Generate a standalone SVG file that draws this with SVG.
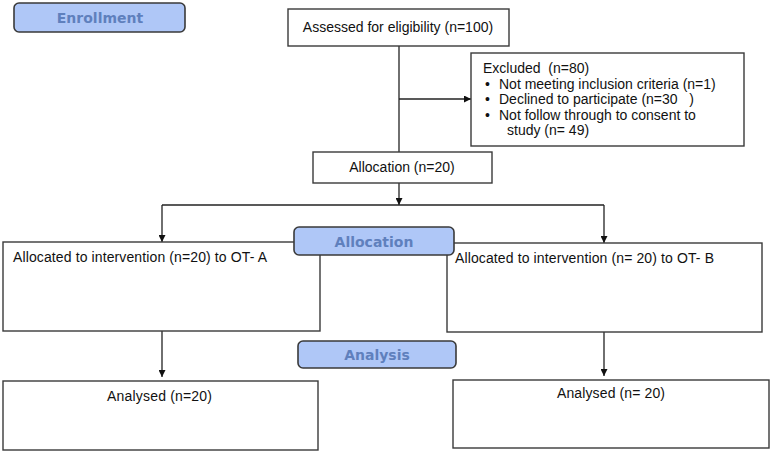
<svg xmlns="http://www.w3.org/2000/svg" width="770" height="453" viewBox="0 0 770 453">
<style>
.box{fill:#fff;stroke:#3a3a3a;stroke-width:1.4}
.lab{fill:#afc7f7;stroke:#3a3a3a;stroke-width:1.6}
.t{font-family:"Liberation Sans",Arial,sans-serif;font-size:14px;fill:#111;white-space:pre}
.h{font-family:"DejaVu Sans",Verdana,sans-serif;font-size:14px;font-weight:bold;fill:#5f80bd;text-anchor:middle}
.c{stroke:#222;stroke-width:1.3;fill:none}
</style>
<defs>
<marker id="ah" viewBox="0 0 10 10" refX="10" refY="5" markerWidth="7" markerHeight="7" markerUnits="userSpaceOnUse" orient="auto">
<path d="M0,0 L10,5 L0,10 z" fill="#111"/>
</marker>
</defs>
<rect width="770" height="453" fill="#fff"/>
<g id="connectors">
<line class="c" x1="399" y1="46" x2="399" y2="152"/>
<line class="c" x1="399" y1="99" x2="471" y2="99" marker-end="url(#ah)"/>
<line class="c" x1="399" y1="183" x2="399" y2="205" marker-end="url(#ah)"/>
<line class="c" x1="162" y1="205" x2="604" y2="205"/>
<line class="c" x1="162" y1="205" x2="162" y2="242" marker-end="url(#ah)"/>
<line class="c" x1="604" y1="205" x2="604" y2="243" marker-end="url(#ah)"/>
<line class="c" x1="162" y1="331" x2="162" y2="377" marker-end="url(#ah)"/>
<line class="c" x1="604" y1="332" x2="604" y2="376" marker-end="url(#ah)"/>
</g>
<g id="enrollment">
<rect class="lab" x="14" y="3" width="171" height="29" rx="5"/>
<text class="h" x="100" y="23">Enrollment</text>
</g>
<g id="assessed">
<rect class="box" x="288" y="9" width="221" height="37"/>
<text class="t" x="398" y="32" text-anchor="middle">Assessed for eligibility (n=100)</text>
</g>
<g id="excluded">
<rect class="box" x="471" y="53" width="273" height="93"/>
<text class="t" x="483" y="73" xml:space="preserve">Excluded  (n=80)</text>
<text class="t" x="485" y="89">•</text><text class="t" x="499" y="89">Not meeting inclusion criteria (n=1)</text>
<text class="t" x="485" y="104">•</text><text class="t" x="499" y="104" xml:space="preserve">Declined to participate (n=30   )</text>
<text class="t" x="485" y="120">•</text><text class="t" x="499" y="120">Not follow through to consent to</text>
<text class="t" x="507" y="135">study (n= 49)</text>
</g>
<g id="allocation-n">
<rect class="box" x="313" y="152" width="179" height="31"/>
<text class="t" x="402" y="172" text-anchor="middle">Allocation (n=20)</text>
</g>
<g id="allocated-a">
<rect class="box" x="3" y="242" width="317" height="89"/>
<text class="t" x="13" y="262" textLength="254">Allocated to intervention (n=20) to OT- A</text>
</g>
<g id="allocated-b">
<rect class="box" x="447" y="243" width="315" height="89"/>
<text class="t" x="455" y="263" textLength="259">Allocated to intervention (n= 20) to OT- B</text>
</g>
<g id="allocation-label">
<rect class="lab" x="294" y="227" width="160" height="28" rx="5"/>
<text class="h" x="374" y="247">Allocation</text>
</g>
<g id="analysis-label">
<rect class="lab" x="298" y="341" width="158" height="27" rx="5"/>
<text class="h" x="377" y="360">Analysis</text>
</g>
<g id="analysed-a">
<rect class="box" x="3" y="381" width="315" height="69"/>
<text class="t" x="107" y="401" textLength="105">Analysed (n=20)</text>
</g>
<g id="analysed-b">
<rect class="box" x="453" y="380" width="316" height="68"/>
<text class="t" x="557" y="398" textLength="108">Analysed (n= 20)</text>
</g>
</svg>
